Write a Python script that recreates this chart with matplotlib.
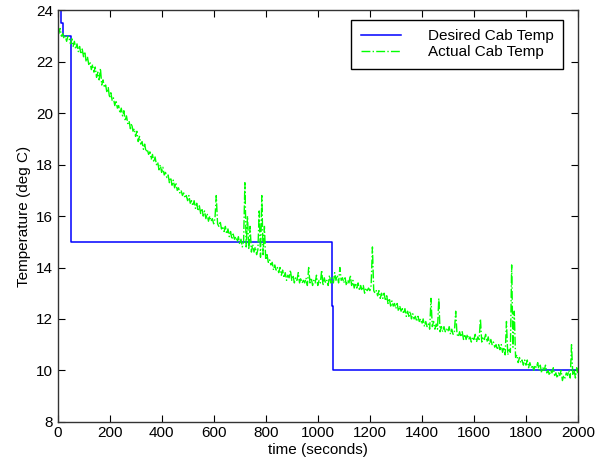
import numpy as np
import matplotlib.pyplot as plt

plt.rcParams['font.family'] = ['Liberation Sans', 'DejaVu Sans']

# desired cab temperature (step signal)
desired_t = [0, 15, 22, 50, 53, 1054, 1060, 2000]
desired_temp = [24, 23.5, 23, 19, 15, 12.5, 10, 10]

actual_temp = [
    23.2, 23.1, 23.3, 23.0, 23.1, 22.9, 23.0, 22.8, 23.0, 22.9,
    22.7, 22.9, 22.6, 22.8, 22.5, 22.7, 22.4, 22.6, 22.3, 22.5,
    22.2, 22.4, 22.0, 22.2, 21.9, 22.0, 21.7, 21.9, 21.6, 21.8,
    21.4, 21.6, 21.3, 21.75, 21.1, 21.3, 21.0, 21.1, 20.8, 21.0,
    20.6, 20.8, 20.5, 20.6, 20.3, 20.5, 20.2, 20.3, 20.0, 20.2,
    19.9, 20.1, 19.7, 19.9, 19.6, 19.7, 19.4, 19.6, 19.3, 19.4,
    19.1, 19.3, 18.9, 19.1, 18.8, 18.9, 18.6, 18.8, 18.5, 18.6,
    18.4, 18.5, 18.2, 18.4, 18.1, 18.3, 18.0, 18.1, 17.8, 18.0,
    17.7, 17.9, 17.6, 17.7, 17.5, 17.6, 17.3, 17.5, 17.2, 17.4,
    17.1, 17.3, 17.0, 17.1, 16.9, 17.0, 16.8, 16.9, 16.7, 16.8,
    16.6, 16.8, 16.5, 16.6, 16.4, 16.6, 16.3, 16.5, 16.2, 16.4,
    16.1, 16.3, 16.0, 16.2, 15.9, 16.1, 15.8, 16.0, 15.8, 15.9,
    15.7, 15.9, 16.8, 15.7, 15.6, 15.8, 15.5, 15.6, 15.4, 15.6,
    15.3, 15.5, 15.2, 15.4, 15.1, 15.3, 15.1, 15.2, 15.0, 15.2,
    14.9, 15.1, 14.8, 15.0, 17.3, 14.8, 16.0, 14.7, 15.6, 14.6,
    14.9, 14.6, 14.8, 14.5, 14.7, 16.2, 14.4, 16.8, 14.5, 15.6,
    14.3, 14.5, 14.2, 14.3, 14.1, 14.2, 13.9, 14.1, 13.9, 14.0,
    13.8, 14.0, 13.7, 13.9, 13.6, 13.8, 13.5, 13.7, 13.6, 13.9,
    13.5, 13.7, 13.4, 13.6, 13.5, 13.8, 13.4, 13.6, 13.4, 13.5,
    13.4, 13.6, 13.3, 14.0, 13.4, 13.6, 13.3, 13.5, 13.4, 13.7,
    13.3, 13.5, 13.4, 13.9, 13.3, 13.6, 13.4, 13.5, 13.3, 13.7,
    13.4, 13.6, 13.4, 13.8, 13.5, 13.7, 13.4, 14.0, 13.5, 13.6,
    13.4, 13.6, 13.3, 13.5, 13.4, 13.7, 13.3, 13.5, 13.2, 13.4,
    13.2, 13.4, 13.1, 13.3, 13.1, 13.3, 13.0, 13.2, 13.1, 13.2,
    13.1, 13.3, 14.8, 13.1, 13.0, 13.1, 12.9, 13.1, 12.8, 13.0,
    12.8, 13.0, 12.7, 12.9, 12.6, 12.8, 12.5, 12.7, 12.5, 12.6,
    12.4, 12.6, 12.3, 12.5, 12.3, 12.4, 12.2, 12.4, 12.1, 12.3,
    12.1, 12.3, 12.0, 12.2, 12.0, 12.1, 11.9, 12.1, 11.9, 12.0,
    11.8, 12.0, 11.7, 11.9, 11.7, 11.8, 11.6, 12.8, 11.7, 11.9,
    11.6, 11.8, 11.6, 12.8, 11.5, 11.7, 11.5, 11.7, 11.5, 11.6,
    11.5, 11.7, 11.4, 11.6, 11.4, 11.5, 12.3, 11.4, 11.3, 11.5,
    11.3, 11.5, 11.2, 11.4, 11.2, 11.4, 11.2, 11.3, 11.1, 11.3,
    11.2, 11.4, 11.1, 11.3, 11.2, 12.0, 11.1, 11.3, 11.2, 11.4,
    11.1, 11.3, 11.0, 11.2, 11.0, 11.1, 10.9, 11.0, 10.8, 11.0,
    10.8, 11.0, 10.7, 10.9, 10.6, 11.9, 10.6, 10.8, 10.7, 14.1,
    10.9, 12.3, 10.5, 10.6, 10.3, 10.5, 10.3, 10.4, 10.2, 10.4,
    10.2, 10.4, 10.1, 10.3, 10.1, 10.2, 10.0, 10.2, 10.1, 10.3,
    10.0, 10.2, 9.9, 10.1, 10.0, 10.2, 9.9, 10.0, 9.8, 10.0,
    9.9, 10.1, 9.8, 9.9, 9.7, 9.9, 9.8, 10.0, 9.6, 9.8,
    9.7, 9.9, 9.8, 10.0, 9.7, 11.0, 9.8, 10.0, 9.7, 10.1,
    9.8,
]
actual_t = np.arange(len(actual_temp)) * 5

fig = plt.figure(figsize=(6.04, 4.68), dpi=100)
ax = fig.add_axes([0.0952, 0.0989, 0.8618, 0.8787])

ax.plot(desired_t, desired_temp, color=(0, 0, 1), lw=1.1, drawstyle='steps-post',
        label='Desired Cab Temp')
ax.plot(actual_t, actual_temp, color=(0, 1, 0), lw=1.0, linestyle='-.',
        label='Actual Cab Temp')

ax.set_xlim(0, 2000)
ax.set_ylim(8, 24)
ax.set_xticks(np.arange(0, 2001, 200))
ax.set_yticks(np.arange(8, 25, 2))
ax.tick_params(direction='in', top=True, right=True, length=5, labelsize=11,
               colors='black', pad=3)
for s in ax.spines.values():
    s.set_color('#333333')
    s.set_linewidth(1.0)

ax.set_xlabel('time (seconds)', fontsize=11, labelpad=2)
ax.set_ylabel('Temperature (deg C)', fontsize=11, labelpad=4)

# legend placed at upper right, framed box like the original
leg = ax.legend(loc='upper right', bbox_to_anchor=(0.9716, 0.977), borderaxespad=0,
                fontsize=11, fancybox=False, edgecolor='black', framealpha=1,
                handlelength=2.6, handletextpad=1.8, labelspacing=0.12,
                borderpad=0.62)
leg.get_frame().set_linewidth(1.0)

fig.savefig('out.png', dpi=100)
